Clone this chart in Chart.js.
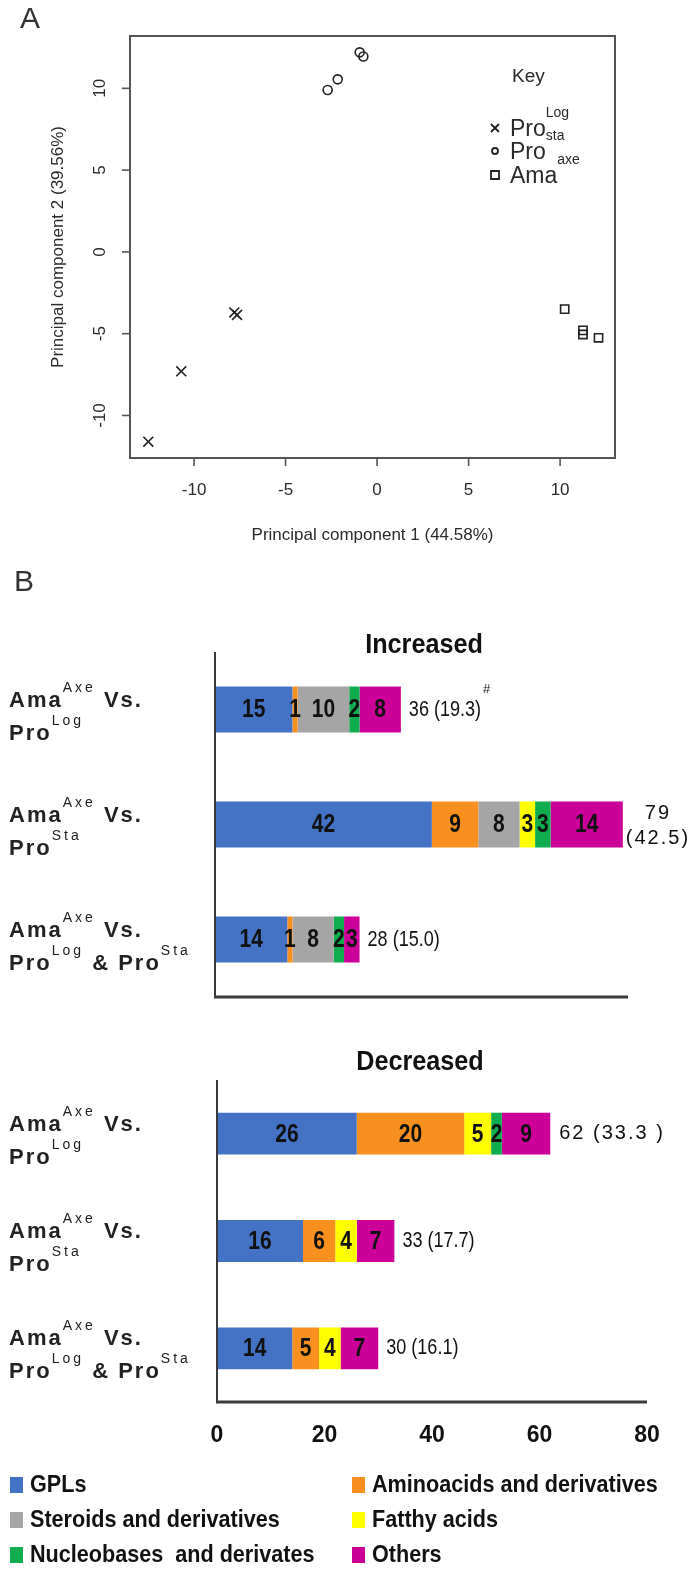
<!DOCTYPE html>
<html>
<head>
<meta charset="utf-8">
<title>PCA and metabolite classes</title>
<script src="https://cdn.jsdelivr.net/npm/chart.js@4.4.1/dist/chart.umd.min.js"></script>
<style>
    html, body { margin: 0; padding: 0; background: #fff; }
    body { width: 692px; height: 1573px; position: relative; overflow: hidden; }
    canvas { position: absolute; left: 0; }
</style>
</head>
<body>
<canvas id="pcaChart" width="692" height="600" style="top:0"></canvas>
<canvas id="incChart" width="692" height="410" style="top:600px"></canvas>
<canvas id="decChart" width="692" height="563" style="top:1010px"></canvas>
<script>
// ---- Panel A: PCA scores ----
const pcaTicks = [-10, -5, 0, 5, 10];
const proLogX = [-12.5, -10.7, -7.8, -7.65];
const proLogY = [-11.6, -7.3, -3.7, -3.85];
const proStaX = [-2.7, -2.15, -0.95, -0.75];
const proStaY = [9.9, 10.55, 12.2, 11.95];
const amaAxeX = [10.25, 11.25, 11.25, 12.1];
const amaAxeY = [-3.5, -4.8, -5.05, -5.25];
// key entries: even index = normal text, odd index = superscript
const pcaKey = [['Pro', 'Log'], ['Pro', 'sta'], ['Ama', 'axe']];

// ---- Panel B: metabolite classes ----
const classes = ['GPLs', 'Aminoacids and derivatives', 'Steroids and derivatives',
                 'Fatthy acids', 'Nucleobases  and derivates', 'Others'];
const comparisons = [
    [['Ama', 'Axe', ' Vs.'], ['Pro', 'Log']],
    [['Ama', 'Axe', ' Vs.'], ['Pro', 'Sta']],
    [['Ama', 'Axe', ' Vs.'], ['Pro', 'Log', ' & Pro', 'Sta']]
];
const incGPLs     = [15, 42, 14];
const incAmino    = [1, 9, 1];
const incSteroids = [10, 8, 8];
const incFatty    = [0, 3, 0];
const incNucleo   = [2, 3, 2];
const incOthers   = [8, 14, 3];
const decGPLs     = [26, 16, 14];
const decAmino    = [20, 6, 5];
const decSteroids = [0, 0, 0];
const decFatty    = [5, 4, 4];
const decNucleo   = [2, 0, 0];
const decOthers   = [9, 7, 7];
const incTotals = ['36 (19.3)', '79\n(42.5)', '28 (15.0)'];
const decTotals = ['62 (33.3 )', '33 (17.7)', '30 (16.1)'];
const xTicks = [0, 20, 40, 60, 80];

const palette = ['#4472c4', '#f7901e', '#a5a5a5', '#ffff00', '#0fad4e', '#cc0099'];
const SANS = '"Liberation Sans", Arial, sans-serif';

// draws text parts, odd parts as superscript
function drawRich(ctx, parts, x, y, big, small, rise, spacing, supSpacing) {
    let cx = x;
    parts.forEach((t, i) => {
        const sup = i % 2 === 1;
        ctx.font = sup ? small : big;
        ctx.letterSpacing = (sup ? supSpacing : spacing) + 'px';
        ctx.fillText(t, cx, sup ? y - rise : y);
        cx += ctx.measureText(t).width;
    });
    ctx.letterSpacing = '0px';
    return cx;
}

// horizontally squeezed text (no narrow font installed)
function fillSqueezed(ctx, text, x, y, sx) {
    ctx.save();
    ctx.translate(x, y);
    ctx.scale(sx, 1);
    ctx.fillText(text, 0, 0);
    ctx.restore();
    return ctx.measureText(text).width * sx;
}

const pcaFrame = {
    id: 'pcaFrame',
    afterDraw(chart) {
        const { ctx, chartArea: a, scales: { x, y } } = chart;
        ctx.save();
        ctx.strokeStyle = '#555';
        ctx.lineWidth = 2;
        ctx.strokeRect(a.left, a.top, a.right - a.left, a.bottom - a.top);

        ctx.fillStyle = '#2a2a2a';
        ctx.font = '17px ' + SANS;
        ctx.textAlign = 'center';
        ctx.textBaseline = 'middle';
        ctx.lineWidth = 1.6;
        pcaTicks.forEach(v => {
            const px = x.getPixelForValue(v);
            ctx.beginPath(); ctx.moveTo(px, a.bottom); ctx.lineTo(px, a.bottom + 8); ctx.stroke();
            ctx.fillText(String(v), px, 490);
            const py = y.getPixelForValue(v);
            ctx.beginPath(); ctx.moveTo(a.left, py); ctx.lineTo(a.left - 8, py); ctx.stroke();
            ctx.save();
            ctx.translate(100, py);
            ctx.rotate(-Math.PI / 2);
            ctx.fillText(String(v), 0, 0);
            ctx.restore();
        });

        // axis titles
        ctx.fillText('Principal component 1 (44.58%)', (a.left + a.right) / 2, 535);
        ctx.save();
        ctx.translate(58, (a.top + a.bottom) / 2);
        ctx.rotate(-Math.PI / 2);
        ctx.fillText('Principal component 2 (39.56%)', 0, 0);
        ctx.restore();

        // key
        ctx.textAlign = 'left';
        ctx.textBaseline = 'alphabetic';
        ctx.font = '19px ' + SANS;
        ctx.fillText('Key', 512, 82);
        const keyY = [136, 159, 183];
        pcaKey.forEach((parts, i) => {
            drawRich(ctx, parts, 510, keyY[i], '23px ' + SANS, '14px ' + SANS, 19, 0, 0);
            const my = keyY[i] - 8;
            ctx.lineWidth = 1.8;
            ctx.strokeStyle = '#222';
            ctx.beginPath();
            if (i === 0) {
                ctx.moveTo(491, my - 4); ctx.lineTo(499, my + 4);
                ctx.moveTo(499, my - 4); ctx.lineTo(491, my + 4);
            } else if (i === 1) {
                ctx.arc(495, my, 3, 0, Math.PI * 2);
            } else {
                ctx.rect(491, my - 4, 8, 8);
            }
            ctx.stroke();
        });

        // panel letters
        ctx.fillStyle = '#333';
        ctx.font = '30px ' + SANS;
        ctx.fillText('A', 20, 28);
        ctx.fillText('B', 14, 591);
        ctx.restore();
    }
};

new Chart(document.getElementById('pcaChart'), {
    type: 'scatter',
    data: {
        datasets: [
            {
                label: 'ProLog',
                data: proLogX.map((v, i) => ({ x: v, y: proLogY[i] })),
                pointStyle: 'crossRot', radius: 7, borderWidth: 1.6,
                borderColor: '#222', backgroundColor: 'transparent'
            },
            {
                label: 'ProSta',
                data: proStaX.map((v, i) => ({ x: v, y: proStaY[i] })),
                pointStyle: 'circle', radius: 4.5, borderWidth: 1.6,
                borderColor: '#222', backgroundColor: 'transparent'
            },
            {
                label: 'AmaAxe',
                data: amaAxeX.map((v, i) => ({ x: v, y: amaAxeY[i] })),
                pointStyle: 'rect', radius: 5.8, borderWidth: 1.6,
                borderColor: '#222', backgroundColor: 'transparent'
            }
        ]
    },
    options: {
        responsive: false,
        animation: false,
        layout: { padding: { top: 36, left: 130, right: 77, bottom: 142 } },
        plugins: { legend: { display: false }, tooltip: { enabled: false } },
        scales: {
            x: { type: 'linear', min: -13.5, max: 13, display: false },
            y: { type: 'linear', min: -12.6, max: 13.2, display: false }
        }
    },
    plugins: [pcaFrame]
});

const barDecor = {
    id: 'barDecor',
    afterDatasetsDraw(chart, args, opts) {
        const { ctx, chartArea: a, scales: { x, y } } = chart;
        ctx.save();

        // axis lines
        ctx.strokeStyle = '#3a3a3a';
        ctx.lineWidth = 2;
        ctx.beginPath(); ctx.moveTo(a.left, a.top); ctx.lineTo(a.left, a.bottom); ctx.stroke();
        ctx.lineWidth = 3;
        ctx.beginPath(); ctx.moveTo(a.left - 1, a.bottom); ctx.lineTo(a.right, a.bottom); ctx.stroke();

        // values inside the segments
        ctx.fillStyle = '#111';
        ctx.textAlign = 'center';
        ctx.textBaseline = 'middle';
        ctx.font = 'bold 25px ' + SANS;
        chart.data.datasets.forEach((ds, i) => {
            chart.getDatasetMeta(i).data.forEach((bar, j) => {
                const v = ds.data[j];
                if (!v) return;
                fillSqueezed(ctx, String(v), (bar.x + bar.base) / 2, bar.y + 1, 0.84);
            });
        });

        // totals right of each bar
        opts.totals.forEach((txt, j) => {
            const total = chart.data.datasets.reduce((s, ds) => s + ds.data[j], 0);
            const endX = x.getPixelForValue(total);
            const cy = y.getPixelForValue(j);
            const lines = txt.split('\n');
            if (opts.wide[j]) {
                ctx.font = '20px ' + SANS;
                ctx.letterSpacing = '2px';
                if (lines.length > 1) {
                    const w = Math.max(...lines.map(l => ctx.measureText(l).width));
                    ctx.textAlign = 'center';
                    ctx.fillText(lines[0], endX + 3 + w / 2, cy - 11);
                    ctx.fillText(lines[1], endX + 3 + w / 2, cy + 14);
                } else {
                    ctx.textAlign = 'left';
                    ctx.fillText(txt, endX + 9, cy);
                }
                ctx.letterSpacing = '0px';
            } else {
                ctx.textAlign = 'left';
                ctx.font = '22px ' + SANS;
                const w = fillSqueezed(ctx, txt, endX + 8, cy, 0.82);
                if (opts.mark && opts.mark[j]) {
                    ctx.font = '13px ' + SANS;
                    ctx.fillText(opts.mark[j], endX + 10 + w, cy - 20);
                }
            }
        });

        // category labels
        ctx.textAlign = 'left';
        ctx.textBaseline = 'alphabetic';
        ctx.fillStyle = '#222';
        comparisons.forEach((lines, j) => {
            const cy = y.getPixelForValue(j);
            drawRich(ctx, lines[0], 9, cy - 3, 'bold 22px ' + SANS, '14px ' + SANS, 15, 2, 3);
            drawRich(ctx, lines[1], 9, cy + 30, 'bold 22px ' + SANS, '14px ' + SANS, 15, 2, 3);
        });

        // title
        ctx.fillStyle = '#111';
        ctx.textAlign = 'center';
        ctx.font = 'bold 28px ' + SANS;
        fillSqueezed(ctx, opts.title, opts.titleX, opts.titleY, 0.9);

        // tick labels
        if (opts.ticks) {
            ctx.font = 'bold 23px ' + SANS;
            ctx.textBaseline = 'middle';
            opts.ticks.forEach(v => ctx.fillText(String(v), x.getPixelForValue(v), a.bottom + 34));
        }

        // legend, two columns
        if (opts.legend) {
            ctx.textAlign = 'left';
            ctx.textBaseline = 'middle';
            ctx.font = 'bold 24px ' + SANS;
            chart.data.datasets.forEach((ds, i) => {
                const lx = i % 2 === 0 ? 10 : 352;
                const ly = a.bottom + 83 + Math.floor(i / 2) * 35;
                ctx.fillStyle = ds.backgroundColor;
                ctx.fillRect(lx, ly - 8, 13, 16);
                ctx.fillStyle = '#111';
                fillSqueezed(ctx, ds.label, lx + 20, ly, 0.9);
            });
        }
        ctx.restore();
    }
};

function barChart(canvasId, series, padding, decor) {
    return new Chart(document.getElementById(canvasId), {
        type: 'bar',
        data: {
            labels: comparisons.map(c => c.map(l => l.join('')).join(' ')),
            datasets: classes.map((name, i) => ({
                label: name,
                data: series[i],
                backgroundColor: palette[i],
                borderWidth: 0,
                categoryPercentage: 1,
                barPercentage: padding.bar
            }))
        },
        options: {
            indexAxis: 'y',
            responsive: false,
            animation: false,
            layout: { padding: { top: padding.top, left: padding.left, right: padding.right, bottom: padding.bottom } },
            plugins: {
                legend: { display: false },
                tooltip: { enabled: false },
                barDecor: decor
            },
            scales: {
                x: { stacked: true, min: 0, max: 80, display: false },
                y: { stacked: true, display: false }
            }
        },
        plugins: [barDecor]
    });
}

barChart('incChart',
    [incGPLs, incAmino, incSteroids, incFatty, incNucleo, incOthers],
    { top: 52, left: 215, right: 64, bottom: 13, bar: 0.4 },
    { totals: incTotals, wide: [false, true, false], mark: ['#', null, null],
      title: 'Increased', titleX: 424, titleY: 53 });

barChart('decChart',
    [decGPLs, decAmino, decSteroids, decFatty, decNucleo, decOthers],
    { top: 70, left: 217, right: 45, bottom: 171, bar: 0.39 },
    { totals: decTotals, wide: [true, false, false],
      title: 'Decreased', titleX: 420, titleY: 60, ticks: xTicks, legend: true });
</script>
</body>
</html>
